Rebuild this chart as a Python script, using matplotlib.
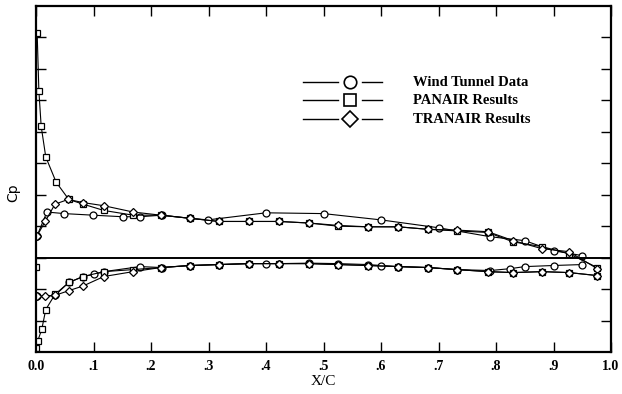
import matplotlib
matplotlib.use("Agg")
import matplotlib.pyplot as plt
import numpy as np

# Wind tunnel data (circles)
wt_up_x = [0.002, 0.019, 0.049, 0.099, 0.151, 0.181, 0.219, 0.268, 0.299, 0.40, 0.50, 0.60, 0.70, 0.79, 0.85, 0.90, 0.95]
wt_up_cp = [-0.14, -0.29, -0.28, -0.27, -0.26, -0.26, -0.27, -0.25, -0.24, -0.285, -0.28, -0.24, -0.19, -0.133, -0.108, -0.044, -0.013]
wt_lo_x = [0.002, 0.033, 0.057, 0.082, 0.10, 0.118, 0.181, 0.219, 0.268, 0.318, 0.37, 0.40, 0.423, 0.475, 0.525, 0.577, 0.60, 0.63, 0.682, 0.732, 0.79, 0.825, 0.85, 0.90, 0.95]
wt_lo_cp = [0.247, 0.24, 0.158, 0.12, 0.107, 0.089, 0.057, 0.063, 0.05, 0.044, 0.038, 0.038, 0.038, 0.035, 0.038, 0.044, 0.05, 0.057, 0.063, 0.076, 0.082, 0.07, 0.057, 0.05, 0.044]

# PANAIR results (squares)
pan_up_x = [0.002, 0.005, 0.009, 0.017, 0.035, 0.057, 0.082, 0.118, 0.169, 0.217, 0.268, 0.318, 0.37, 0.423, 0.475, 0.525, 0.577, 0.63, 0.682, 0.732, 0.786, 0.83, 0.88, 0.927, 0.976]
pan_up_cp = [-1.43, -1.06, -0.835, -0.64, -0.48, -0.37, -0.34, -0.30, -0.27, -0.27, -0.25, -0.23, -0.23, -0.23, -0.22, -0.20, -0.196, -0.196, -0.18, -0.17, -0.16, -0.10, -0.07, -0.025, 0.063]
pan_lo_x = [0.0, 0.0, 0.003, 0.01, 0.017, 0.033, 0.057, 0.082, 0.118, 0.169, 0.217, 0.268, 0.318, 0.37, 0.423, 0.475, 0.525, 0.577, 0.63, 0.682, 0.732, 0.786, 0.83, 0.88, 0.927, 0.976]
pan_lo_cp = [0.057, 0.576, 0.53, 0.456, 0.33, 0.234, 0.158, 0.12, 0.089, 0.076, 0.063, 0.05, 0.044, 0.038, 0.038, 0.038, 0.044, 0.05, 0.057, 0.063, 0.076, 0.089, 0.095, 0.089, 0.095, 0.114]

# TRANAIR results (diamonds)
tra_up_x = [0.002, 0.016, 0.033, 0.056, 0.082, 0.118, 0.169, 0.217, 0.268, 0.318, 0.37, 0.423, 0.475, 0.525, 0.577, 0.63, 0.682, 0.732, 0.786, 0.83, 0.88, 0.927, 0.976]
tra_up_cp = [-0.14, -0.23, -0.34, -0.37, -0.35, -0.33, -0.29, -0.27, -0.25, -0.23, -0.23, -0.23, -0.22, -0.205, -0.196, -0.196, -0.18, -0.175, -0.165, -0.108, -0.057, -0.038, 0.07]
tra_lo_x = [0.002, 0.016, 0.033, 0.057, 0.082, 0.118, 0.169, 0.217, 0.268, 0.318, 0.37, 0.423, 0.475, 0.525, 0.577, 0.63, 0.682, 0.732, 0.786, 0.83, 0.88, 0.927, 0.976]
tra_lo_cp = [0.247, 0.247, 0.24, 0.21, 0.18, 0.12, 0.089, 0.063, 0.05, 0.044, 0.038, 0.038, 0.038, 0.044, 0.05, 0.057, 0.063, 0.076, 0.089, 0.095, 0.089, 0.095, 0.114]

x_ticks = [0.0, 0.1, 0.2, 0.3, 0.4, 0.5, 0.6, 0.7, 0.8, 0.9, 1.0]
x_tick_labels = ["0.0", ".1", ".2", ".3", ".4", ".5", ".6", ".7", ".8", ".9", "1.0"]
y_ticks = [-1.4, -1.2, -1.0, -0.8, -0.6, -0.4, -0.2, 0.0, 0.2, 0.4]
legend_labels = ["Wind Tunnel Data", "PANAIR Results", "TRANAIR Results"]
legend_markers = ["o", "s", "D"]

fig = plt.figure(figsize=(6.22, 3.94), dpi=100)
ax = fig.add_axes([36 / 622, 1 - 352 / 394, 575 / 622, 346 / 394])

mk = dict(color="black", lw=0.8, markerfacecolor="white", markeredgecolor="black",
          markeredgewidth=0.9, markersize=5)
ax.plot(wt_up_x, wt_up_cp, marker="o", **mk)
ax.plot(wt_lo_x, wt_lo_cp, marker="o", **mk)
ax.plot(pan_up_x, pan_up_cp, marker="s", **dict(mk, markersize=4.5))
ax.plot(pan_lo_x, pan_lo_cp, marker="s", **dict(mk, markersize=4.5))
ax.plot(tra_up_x, tra_up_cp, marker="D", **dict(mk, markersize=4.5))
ax.plot(tra_lo_x, tra_lo_cp, marker="D", **dict(mk, markersize=4.5))

ax.axhline(0.0, color="black", lw=1.4)

ax.set_xlim(0.0, 1.0)
ax.set_ylim(0.6, -1.6)
ax.set_xticks(x_ticks)
ax.set_xticklabels(x_tick_labels, fontfamily="Liberation Serif", fontweight="bold", fontsize=10)
ax.set_yticks(y_ticks)
ax.set_yticklabels([])
ax.tick_params(direction="in", length=7, width=1.0, top=True, right=True, pad=6, colors="black")
for s in ax.spines.values():
    s.set_linewidth(1.6)

ax.set_xlabel("X/C", fontfamily="Liberation Serif", fontsize=11, labelpad=1)
ax.set_ylabel("Cp", fontfamily="DejaVu Sans", fontsize=10)
ax.yaxis.set_label_coords(-0.028, 0.46)

# Manual legend: line — marker — short line, then text
row_y = [0.780, 0.728, 0.673]
for yy, m, lab in zip(row_y, legend_markers, legend_labels):
    ax.plot([0.464, 0.525], [yy, yy], color="black", lw=1.0, transform=ax.transAxes, clip_on=False)
    ax.plot([0.567, 0.602], [yy, yy], color="black", lw=1.0, transform=ax.transAxes, clip_on=False)
    ax.plot([0.546], [yy], marker=m, markersize=(9 if m == "o" else 8 if m == "s" else 8.5),
            markerfacecolor="white", markeredgecolor="black", markeredgewidth=1.2,
            linestyle="none", transform=ax.transAxes, clip_on=False)
    ax.text(0.655, yy, lab, transform=ax.transAxes, va="center", ha="left",
            fontfamily="Liberation Serif", fontweight="bold", fontsize=10.5)

fig.savefig("out.png", dpi=100)
